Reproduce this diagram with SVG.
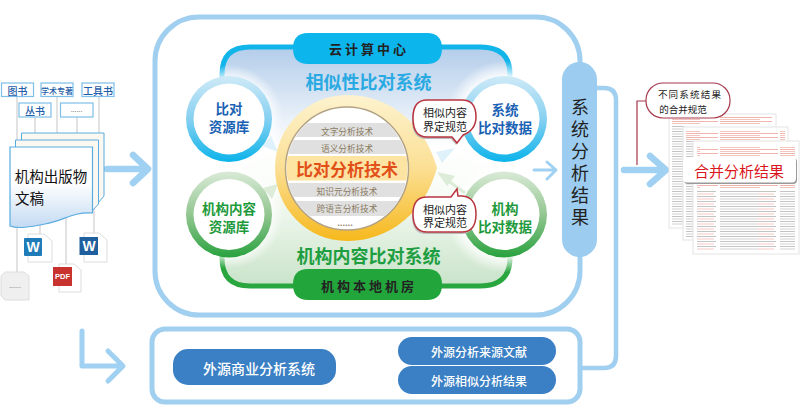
<svg xmlns="http://www.w3.org/2000/svg" width="800" height="406" viewBox="0 0 800 406">
<style>
text{font-family:"Noto Sans CJK SC","Noto Sans",sans-serif;text-anchor:middle;dominant-baseline:central}
.flow{fill:none;stroke:#a0d1f2;stroke-linecap:round;stroke-linejoin:round}
.tag{fill:#fff;stroke:#7fbfe8;stroke-width:1.2}
.tagt{font-size:10px;font-weight:500;fill:#1f5ea8}
.wire{stroke:#cfcfcf;stroke-width:1.2;fill:none}
.row{fill:#e0e0e0}
.rowt{font-size:8.7px;fill:#8a7b60}
.bl{font-size:13.500px;font-weight:700;fill:#1a62b4}
.gr{font-size:13.500px;font-weight:700;fill:#1e9a3c}
.bub{fill:#fff;stroke:#b8343f;stroke-width:1.5}
.bubt{font-size:11px;fill:#222}
.pillt{font-weight:500;fill:#fff}
.page{fill:#fff;stroke:#e4e4e4;stroke-width:1}
.ic{fill:#fff;stroke:#ddd;stroke-width:1}
</style>
<defs>
<linearGradient id="docg" x1="0" y1="0" x2="0" y2="1"><stop offset="0" stop-color="#fff"/><stop offset=".45" stop-color="#fff"/><stop offset="1" stop-color="#c3daf2"/></linearGradient>
<linearGradient id="bgg" x1="0" y1="47" x2="0" y2="287" gradientUnits="userSpaceOnUse"><stop offset="0" stop-color="#b3cdea"/><stop offset=".42" stop-color="#fff"/><stop offset=".6" stop-color="#f8fcf6"/><stop offset="1" stop-color="#c8e3c9"/></linearGradient>
<linearGradient id="ringb" x1="0" y1="0" x2="0" y2="1"><stop offset="0" stop-color="#cfeaf7"/><stop offset=".5" stop-color="#86d0f1"/><stop offset="1" stop-color="#0bb3ea"/></linearGradient>
<linearGradient id="ringg" x1="0" y1="0" x2="0" y2="1"><stop offset="0" stop-color="#d9ead7"/><stop offset=".5" stop-color="#93c691"/><stop offset="1" stop-color="#28a23e"/></linearGradient>
<linearGradient id="gold" x1="0" y1="0" x2="0" y2="1"><stop offset="0" stop-color="#fdf3cf"/><stop offset=".5" stop-color="#fbdf94"/><stop offset="1" stop-color="#f6b81c"/></linearGradient>
<radialGradient id="halo"><stop offset=".7" stop-color="#fff"/><stop offset="1" stop-color="#fff" stop-opacity="0"/></radialGradient>
<clipPath id="inner"><circle cx="347" cy="168.500" r="60.500"/></clipPath>
<pattern id="gl" width="60" height="5" patternUnits="userSpaceOnUse"><rect x="0" y="1" width="56" height="1" fill="#c4c4c4"/><rect x="0" y="3.500" width="38" height="1" fill="#d2d2d2"/><rect x="38" y="3.500" width="16" height="1" fill="#f6c8c2"/></pattern>
<pattern id="pl" width="60" height="4" patternUnits="userSpaceOnUse"><rect x="0" y="1" width="58" height="1" fill="#f3b4ad"/><rect x="0" y="3" width="40" height="1" fill="#f2c4be"/></pattern>
</defs>

<g id="outer-box"><rect x="155" y="17" width="425" height="298" rx="44" fill="#fff" stroke="#a0cff0" stroke-width="5"/></g>

<g id="inner-background">
<path d="M220 76Q220 47 250 47H480Q510 47 510 76V258Q510 287 480 287H250Q220 287 220 258Z" fill="url(#bgg)"/>
<path d="M222 82V74Q222 47 250 47H480Q510 47 510 74V82" fill="none" stroke="#12b5ea" stroke-width="5"/>
<path d="M222 250V258Q222 286 250 286H480Q510 286 510 258V250" fill="none" stroke="#2aa63f" stroke-width="5"/>
<circle cx="229" cy="119" r="54" fill="url(#halo)"/>
<circle cx="229" cy="214.500" r="54" fill="url(#halo)"/>
<circle cx="504" cy="119" r="58" fill="url(#halo)"/>
<circle cx="504" cy="214.500" r="58" fill="url(#halo)"/>
</g>

<g id="connectors">
<path class="wire" d="M17 96V147M57 96V133M99 96V134M35 117V134M77 117V134M17 226V272M40 224V235M66 218V264M94 206V234"/>
<path class="flow" stroke-width="6.500" d="M107 169H146M133 155L148 169L133 183"/>
<path class="flow" stroke-width="5" d="M82 331V366H122M108 351L123 366L108 381"/>
<path class="flow" stroke-width="3" d="M355 369H378M370 361L379 369L370 378"/>
<path class="flow" stroke-width="3" d="M534 170H555M547 162L556 170L547 179"/>
<path class="flow" stroke-width="6.500" d="M624 170H664M650 156L666 170L650 184"/>
<path d="M597 88H604Q616 88 616 100V356Q616 368 604 368H581" fill="none" stroke="#a0cff0" stroke-width="4.500"/>
<path d="M637 165V101H646" fill="none" stroke="#a5384c" stroke-width="1.200"/>
<g fill="#dff1fb" stroke="none"><path d="M278 152L271 136L262 146Z"/><path d="M455 148L436 152L442 163Z"/></g>
<g fill="#dcecd8" stroke="none"><path d="M278 184L263 188L272 199Z"/><path d="M437 172L455 176L447 186Z"/><path d="M447 180L465 193" stroke="#dcecd8" stroke-width="3"/></g>
</g>

<g id="cloud-center"><path d="M293 48.500Q293 33 308 33H427Q442 33 442 48.500Q442 64 427 64H308Q293 64 293 48.500Z" fill="#0cb5ec"/><text x="369" y="48" font-size="13" font-weight="700" fill="#222" letter-spacing="3">云计算中心</text></g>
<text id="title-sim" x="368.500" y="81" font-size="18" font-weight="700" fill="#2aaae2">相似性比对系统</text>
<text id="title-org" x="368.500" y="255" font-size="18" font-weight="700" fill="#1f9e41">机构内容比对系统</text>
<g id="local-room"><path d="M293 284.500Q293 269 308 269H427Q442 269 442 284.500Q442 300 427 300H308Q293 300 293 284.500Z" fill="#22a63c"/><text x="369" y="285" font-size="13" font-weight="700" fill="#222" letter-spacing="3">机构本地机房</text></g>

<g id="node-source"><circle cx="229" cy="119" r="43" fill="url(#ringb)"/><circle cx="229" cy="119" r="35.500" fill="#fff"/><text class="bl"><tspan x="229" y="108">比对</tspan><tspan x="229" y="125.500">资源库</tspan></text></g>
<g id="node-org-source"><circle cx="229" cy="214.500" r="43" fill="url(#ringg)"/><circle cx="229" cy="214.500" r="35.500" fill="#fff"/><text class="gr"><tspan x="229" y="208">机构内容</tspan><tspan x="229" y="225.500">资源库</tspan></text></g>
<g id="node-sys-data"><circle cx="504" cy="119" r="43" fill="url(#ringb)"/><circle cx="504" cy="119" r="35.500" fill="#fff"/><text class="bl"><tspan x="505" y="109">系统</tspan><tspan x="505" y="126.500">比对数据</tspan></text></g>
<g id="node-org-data"><circle cx="504" cy="214.500" r="43" fill="url(#ringg)"/><circle cx="504" cy="214.500" r="35.500" fill="#fff"/><text class="gr"><tspan x="505" y="208">机构</tspan><tspan x="505" y="225.500">比对数据</tspan></text></g>

<g id="node-core">
<path d="M347 95C378 95 403 110 420 132C428 143 433 155 437 168C433 181 428 193 420 204C403 226 378 241 347 241C307 241 275 208 275 168C275 128 307 95 347 95Z" fill="url(#gold)"/>
<circle cx="347" cy="168.500" r="61.500" fill="#fff" stroke="#b3a386" stroke-width="1.500"/>
<g clip-path="url(#inner)">
<rect class="row" x="280" y="123" width="135" height="14"/>
<rect class="row" x="280" y="140" width="135" height="14"/>
<rect x="280" y="156" width="135" height="24.500" fill="#fde4a2"/>
<rect class="row" x="280" y="183" width="135" height="14"/>
<rect class="row" x="280" y="201" width="135" height="15"/>
</g>
<text class="rowt" x="347" y="131">文字分析技术</text>
<text class="rowt" x="347" y="148">语义分析技术</text>
<text x="347" y="168.500" font-size="17" font-weight="700" fill="#e2501a">比对分析技术</text>
<text class="rowt" x="347" y="191">知识元分析技术</text>
<text class="rowt" x="347" y="208.500">跨语言分析技术</text>
<text x="345" y="222" font-size="8" font-weight="700" fill="#8a7b60">......</text>
</g>

<g id="bubble-top">
<path d="M427 100H462Q476 100 476 117Q476 130 463 135L457 143L452 137H427Q413 137 413 118Q413 100 427 100Z" fill="#bbb" transform="translate(-1 2)"/>
<path class="bub" d="M427 100H462Q476 100 476 117Q476 130 463 135L457 143L452 137H427Q413 137 413 118Q413 100 427 100Z"/>
<text class="bubt"><tspan x="445" y="112">相似内容</tspan><tspan x="445" y="126">界定规范</tspan></text>
</g>
<g id="bubble-bottom">
<path d="M427 197H451L457 189L458 196H462Q476 197 476 214Q476 232 462 232H427Q413 232 413 214Q413 197 427 197Z" fill="#bbb" transform="translate(-1 2)"/>
<path class="bub" d="M427 197H451L457 189L458 196H462Q476 197 476 214Q476 232 462 232H427Q413 232 413 214Q413 197 427 197Z"/>
<text class="bubt"><tspan x="445" y="209">相似内容</tspan><tspan x="445" y="222">界定规范</tspan></text>
</g>

<g id="node-result"><rect x="562" y="62" width="35" height="195" rx="17.500" fill="#9ccdf0"/>
<text x="580" y="164" font-size="18" fill="#222" letter-spacing="4" style="writing-mode:vertical-rl">系统分析结果</text></g>

<g id="node-external"><rect x="152" y="329" width="428" height="73" rx="13" fill="#fff" stroke="#a0cff0" stroke-width="5"/>
<rect x="173" y="349" width="163" height="36" rx="15" fill="#3b7fc4"/><text class="pillt" x="259" y="367.500" font-size="14">外源商业分析系统</text>
<rect x="398" y="337" width="158" height="28" rx="14" fill="#3b7fc4"/><text class="pillt" x="479" y="351" font-size="12">外源分析来源文献</text>
<rect x="398" y="366" width="158" height="28" rx="14" fill="#3b7fc4"/><text class="pillt" x="479" y="380" font-size="12">外源相似分析结果</text></g>

<g id="node-publications">
<rect class="tag" x="1.500" y="83" width="32" height="13.500"/><text class="tagt" x="17.500" y="90">图书</text>
<rect class="tag" x="41" y="83" width="32" height="13.500"/><text class="tagt" x="57" y="90" style="font-size:8px">学术专著</text>
<rect class="tag" x="82" y="83" width="32" height="13.500"/><text class="tagt" x="98" y="90">工具书</text>
<rect class="tag" x="19" y="103" width="32" height="14"/><text class="tagt" x="35" y="110">丛书</text>
<rect class="tag" x="60.500" y="103" width="32.500" height="14"/><text x="76.500" y="109" font-size="7" fill="#777">......</text>
<path d="M21.500 133H104V196L98 203H21.500Z" fill="#fbf8f2" stroke="#5aace0"/>
<path d="M15.500 140H98.500V204L93 210H15.500Z" fill="#fbf8f2" stroke="#5aace0"/>
<path d="M10 147H92.500V213C72 212 65 220 45 224C30 227 18 229 10 226Z" fill="url(#docg)" stroke="#5aace0" stroke-width="1.200"/>
<text font-size="14.500" fill="#111"><tspan x="51" y="175">机构出版物</tspan><tspan x="29.500" y="197">文稿</tspan></text>
</g>
<g id="icon-word-a"><path class="ic" d="M28 234H44L52 241V262H28Z"/><rect x="24" y="238" width="18" height="18" rx="1" fill="#1f7cb8"/><text x="33" y="247" font-size="14" font-weight="700" fill="#fff" style="font-family:'Liberation Sans',sans-serif">W</text></g>
<g id="icon-word-b"><path class="ic" d="M84 233H99L107 240V262H84Z"/><rect x="79.500" y="237" width="18.500" height="18" fill="#1f5f9e"/><text x="89" y="246" font-size="14" font-weight="700" fill="#fff" style="font-family:'Liberation Sans',sans-serif">W</text></g>
<g id="icon-pdf"><path class="ic" d="M59 264H74L81 270V292H59Z"/><rect x="53" y="267" width="19" height="19" fill="#c8332f"/><text x="62.500" y="276" font-size="7.500" font-weight="700" fill="#fff" style="font-family:'Liberation Sans',sans-serif">PDF</text></g>
<g id="icon-other"><path d="M1 276L5 272H24L29 276V300H5L1 296Z" fill="#efefef" stroke="#ddd"/><text x="15" y="285" font-size="7" fill="#888">......</text></g>

<g id="node-merged">
<rect class="page" x="669" y="114" width="107" height="114"/><rect x="672" y="117" width="100" height="8" fill="url(#pl)"/><rect x="672" y="125" width="12" height="100" fill="url(#gl)"/>
<rect class="page" x="683" y="127" width="105" height="113"/><rect x="686" y="130" width="99" height="10" fill="url(#pl)"/><rect x="686" y="140" width="8" height="97" fill="url(#gl)"/>
<rect class="page" x="693" y="141" width="106" height="113"/><rect x="697" y="146" width="98" height="11" fill="url(#pl)"/><rect x="697" y="184" width="98" height="5" fill="url(#pl)"/><rect x="697" y="190" width="98" height="61" fill="url(#gl)"/>
<rect x="684" y="158" width="113" height="26" rx="4" fill="#999"/>
<rect x="683" y="157" width="113" height="25.500" rx="4" fill="#fff"/>
<text x="739" y="170" font-size="15" fill="#d9171c">合并分析结果</text>
</g>
<g id="callout-merge"><rect x="646" y="83" width="84" height="35" rx="17" fill="#fff" stroke="#a5384c" stroke-width="1.200"/><text x="690" y="94" font-size="9.500" fill="#222" letter-spacing="1.200">不同系统结果</text><text x="683" y="109" font-size="9.500" fill="#222">的合并规范</text></g>
</svg>
